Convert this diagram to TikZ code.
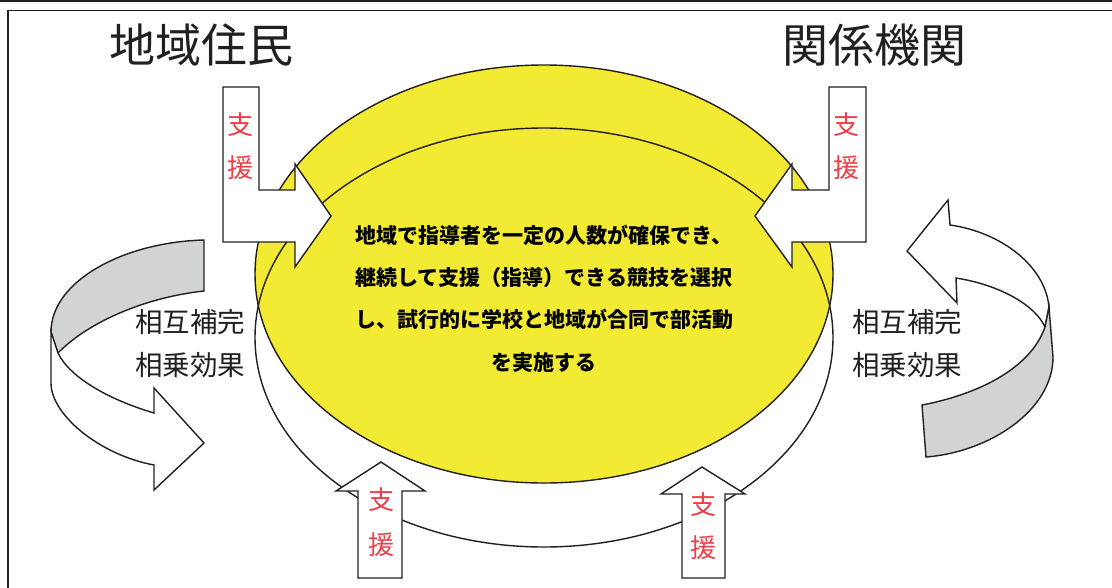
\documentclass[tikz,border=0pt]{standalone}
\usepackage{fontspec}
\newfontfamily\cjk{Noto Sans CJK JP}
\definecolor{ylw}{RGB}{243,234,52}
\definecolor{gry}{RGB}{209,211,212}
\definecolor{redt}{RGB}{237,62,72}
\definecolor{ink}{RGB}{35,31,32}
\tikzset{
  outl/.style={draw=ink, line width=1.4pt, line join=miter},
  whiteshape/.style={outl, fill=white},
  grayshape/.style={outl, fill=gry},
  titletext/.style={text=ink, font=\cjk\fontsize{46}{50}\selectfont, inner sep=0pt},
  supporttext/.style={text=redt, align=center, inner sep=0pt},
  effecttext/.style={text=ink, align=center, inner sep=0pt, font=\cjk\fontsize{27.5}{43}\selectfont},
  maintext/.style={text=black, align=center, inner sep=0pt, font=\cjk\bfseries\fontsize{21}{42.3}\selectfont}
}
\begin{document}
\begin{tikzpicture}[x=1pt,y=-1pt]
\useasboundingbox (0,0) rectangle (1112,587);
\fill[white] (0,0) rectangle (1112,587);
% frame
\fill[ink] (0,0) rectangle (1112,2.2);
\draw[ink, line width=1.3pt] (8,590) -- (8,10.5) -- (1115,10.5);

% ellipses
\draw[outl, fill=ylw] (544,274) ellipse [x radius=289, y radius=209];
\draw[outl] (544,337.5) ellipse [x radius=289, y radius=209.5];

% main text
\node[maintext] (main) at (544,298.5) {地域で指導者を一定の人数が確保でき、\\継続して支援（指導）できる競技を選択\\し、試行的に学校と地域が合同で部活動\\を実施する};

% titles
\node[titletext] (resid) at (201,45) {地域住民};
\node[titletext] (agency) at (874,45) {関係機関};

% top-left bent arrow
\draw[whiteshape] (223,87) -- (259,87) -- (259,190) -- (295,190) -- (295,164) -- (331,216) -- (295,267) -- (295,242) -- (223,242) -- cycle;
\node[supporttext, font=\cjk\fontsize{26}{43}\selectfont] (sTL) at (240,146.5) {支\\援};

% top-right bent arrow
\draw[whiteshape] (866,87) -- (829,87) -- (829,190) -- (792,190) -- (792,164) -- (755,216) -- (792,267) -- (792,242) -- (866,242) -- cycle;
\node[supporttext, font=\cjk\fontsize{26}{43}\selectfont] (sTR) at (846,146.5) {支\\援};

% bottom arrows
\draw[whiteshape] (358,578) -- (358,491) -- (336,491) -- (381,462) -- (425,491) -- (402,491) -- (402,578) -- cycle;
\node[supporttext, font=\cjk\fontsize{26}{45}\selectfont] (sBL) at (381,522.5) {支\\援};
\draw[whiteshape] (682,578) -- (682,494) -- (661,494) -- (702,467) -- (745,494) -- (725,494) -- (725,578) -- cycle;
\node[supporttext, font=\cjk\fontsize{26}{43}\selectfont] (sBR) at (703,526) {支\\援};

% left curved arrow
\draw[grayshape] (204,240) .. controls (124,242) and (51,281) .. (51,332) -- (58,353) .. controls (85,325) and (140,298) .. (204,291) -- cycle;
\draw[whiteshape] (51,332) -- (51,383) .. controls (51,415) and (100,455) .. (154,465) -- (154,490) -- (204,443) -- (154,388) -- (154,413) .. controls (110,400) and (70,378) .. (58,353) -- cycle;
\node[effecttext] (effL) at (190,343.5) {相互補完\\相乗効果};

% right curved arrow
\draw[whiteshape] (948,200) -- (907,251) -- (957,303) -- (956,278) .. controls (1000,285) and (1035,305) .. (1045,327) -- (1049,307) .. controls (1045,265) and (1000,232) .. (950,225) -- cycle;
\draw[grayshape] (1049,307) -- (1053,357) .. controls (1053,410) and (990,452) .. (926,457) -- (922,405) .. controls (975,395) and (1030,370) .. (1045,327) -- cycle;
\node[effecttext] (effR) at (907,343.5) {相互補完\\相乗効果};
\end{tikzpicture}
\end{document}
